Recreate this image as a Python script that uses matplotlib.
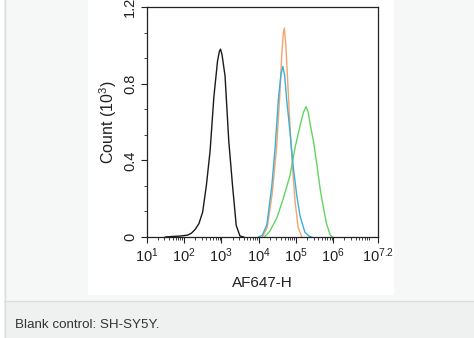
import matplotlib
matplotlib.use('Agg')
import matplotlib.pyplot as plt
from matplotlib.patches import Rectangle
from matplotlib.lines import Line2D
from matplotlib.ticker import FixedLocator, AutoMinorLocator, NullFormatter
import numpy as np

plt.rcParams.update({
    'font.family': ['Liberation Sans', 'DejaVu Sans'],
    'mathtext.fontset': 'custom',
    'mathtext.rm': 'Liberation Sans',
    'mathtext.it': 'Liberation Sans',
    'mathtext.default': 'regular',
})

# histogram traces, x as log10(AF647-H), y in thousands of events
black_exp = [1.5, 1.7, 1.9, 2.1, 2.2, 2.3, 2.4, 2.5, 2.6, 2.7, 2.8, 2.9, 2.95, 2.98, 3.02,
             3.1, 3.2, 3.3, 3.4, 3.5, 3.6]
black_cnt = [0.0, 0.003, 0.005, 0.01, 0.02, 0.04, 0.07, 0.13, 0.27, 0.45, 0.73, 0.92, 0.97, 0.98, 0.95,
             0.84, 0.50, 0.27, 0.06, 0.005, 0.0]

orange_exp = [4.1, 4.23, 4.36, 4.48, 4.57, 4.62, 4.66, 4.69, 4.73, 4.78, 4.84, 4.91, 4.98, 5.06, 5.16]
orange_cnt = [0.0, 0.05, 0.22, 0.46, 0.75, 0.95, 1.06, 1.09, 1.0, 0.81, 0.58, 0.36, 0.18, 0.05, 0.0]

blue_exp = [4.0, 4.1, 4.22, 4.35, 4.44, 4.53, 4.6, 4.65, 4.7, 4.75, 4.84, 4.92, 5.02, 5.11, 5.24,
            5.35, 5.42]
blue_cnt = [0.0, 0.01, 0.063, 0.26, 0.46, 0.72, 0.85, 0.89, 0.84, 0.72, 0.55, 0.38, 0.22, 0.11, 0.025,
            0.005, 0.0]

green_exp = [4.15, 4.3, 4.49, 4.66, 4.84, 4.98, 5.11, 5.2, 5.27, 5.33, 5.38, 5.47, 5.56, 5.65, 5.74,
             5.82, 5.92, 5.98]
green_cnt = [0.0, 0.03, 0.10, 0.20, 0.32, 0.47, 0.58, 0.65, 0.68, 0.65, 0.59, 0.50, 0.38, 0.25, 0.15,
             0.07, 0.01, 0.0]

xtick_exp = [1, 2, 3, 4, 5, 6, 7.2]
xtick_labels = ['10$^{1}$', '10$^{2}$', '10$^{3}$', '10$^{4}$', '10$^{5}$', '10$^{6}$', '10$^{7.2}$']
ytick_vals = [0, 0.4, 0.8, 1.2]
ytick_labels = ['0', '0.4', '0.8', '1.2']
caption = 'Blank control: SH-SY5Y.'

W, H = 474, 338
fig = plt.figure(figsize=(W / 100, H / 100), dpi=100)
fig.patch.set_facecolor('white')


def px_rect(x0, y0, x1, y1, color, z=0):
    # rectangle given in pixel coords, origin top-left
    fig.patches.append(Rectangle((x0 / W, 1 - y1 / H), (x1 - x0) / W, (y1 - y0) / H,
                                 transform=fig.transFigure, facecolor=color,
                                 edgecolor='none', zorder=z))


px_rect(4, 0, W, 301, '#f6f7f7')
px_rect(4, 301, W, H, '#eff0f0')
px_rect(88, 0, 394, 295, 'white', z=1)
fig.lines.append(Line2D([4.5 / W, 4.5 / W], [0, 1], transform=fig.transFigure,
                        color='#dcdede', lw=1))
fig.lines.append(Line2D([4 / W, 1], [1 - 301 / H, 1 - 301 / H], transform=fig.transFigure,
                        color='#dcdede', lw=1))

ax = fig.add_axes([146.7 / W, 1 - 237 / H, (378 - 146.7) / W, (237 - 7) / H])
ax.set_zorder(2)
ax.set_facecolor('white')

for xs, ys, c in ((black_exp, black_cnt, '#1a1a1a'),
                  (green_exp, green_cnt, '#62d462'),
                  (orange_exp, orange_cnt, '#f2a46c'),
                  (blue_exp, blue_cnt, '#3cb0d6')):
    ax.plot(10 ** np.array(xs), ys, color=c, lw=1.0)

ax.set_xscale('log')
ax.set_xlim(10 ** 1, 10 ** 7.2)
ax.set_ylim(0, 1.2)

ax.xaxis.set_major_locator(FixedLocator([10 ** e for e in xtick_exp]))
ax.set_xticklabels(xtick_labels)
minor = [m * 10 ** d for d in range(1, 8) for m in range(2, 10) if m * 10 ** d < 10 ** 7.2]
ax.xaxis.set_minor_locator(FixedLocator(minor))
ax.xaxis.set_minor_formatter(NullFormatter())

ax.set_yticks(ytick_vals)
ax.set_yticklabels(ytick_labels, rotation=90, va='center')
ax.yaxis.set_minor_locator(AutoMinorLocator(3))

ax.tick_params(which='major', length=4, width=0.8, labelsize=10.5, color='#222222', pad=3,
               labelcolor='#222222')
ax.tick_params(axis='y', which='major', pad=3)
ax.tick_params(which='minor', length=2, width=0.6, color='#222222')
for s in ax.spines.values():
    s.set_linewidth(0.9)
    s.set_color('#222222')

ax.set_xlabel('AF647-H', fontsize=11, labelpad=8, color='#222222')
ax.set_ylabel('Count (10$^{3}$)', fontsize=11.5, labelpad=3, color='#222222')

fig.text(15 / W, 1 - 325 / H, caption, fontsize=9.6, color='#333333', va='center', ha='left')

fig.savefig('out.png', dpi=100)
